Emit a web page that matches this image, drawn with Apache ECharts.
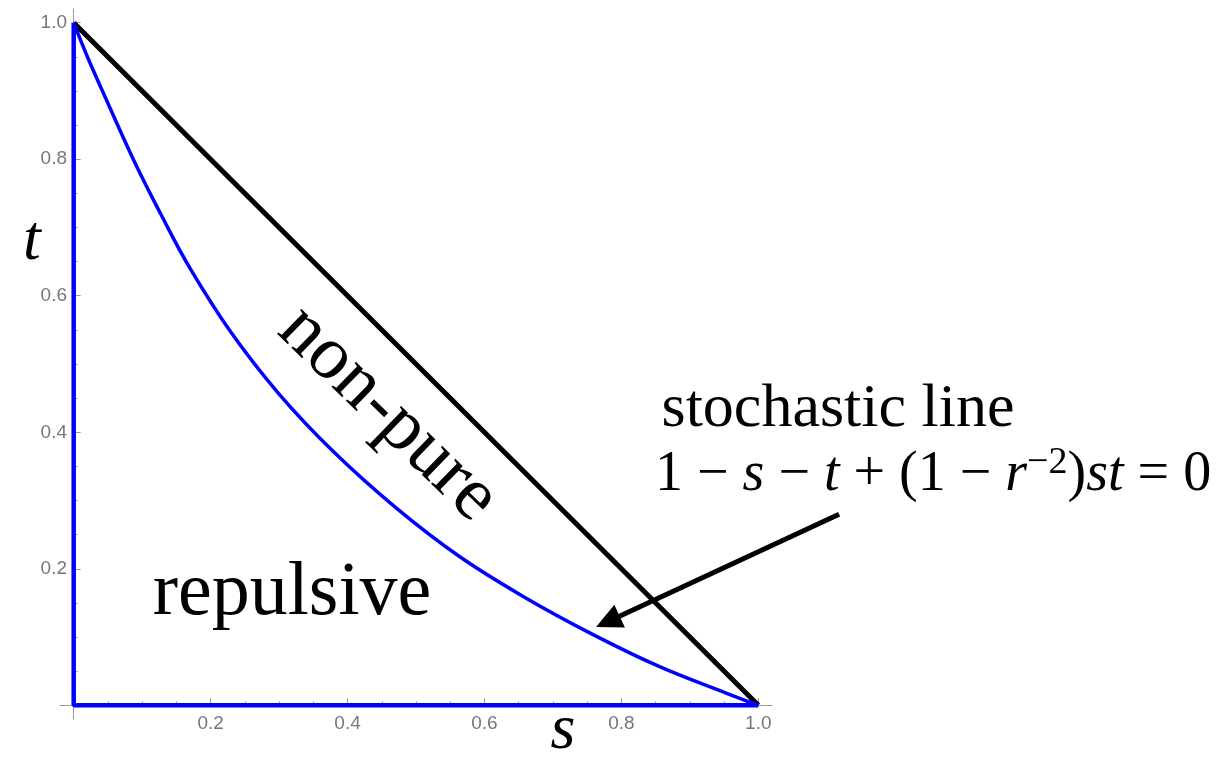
<!DOCTYPE html>
<html>
<head>
<meta charset="utf-8">
<script src="https://cdn.jsdelivr.net/npm/echarts@6/dist/echarts.min.js"></script>
<style>
  html, body { margin: 0; padding: 0; background: #fff; }
  #chart { width: 1231px; height: 758px; }
</style>
</head>
<body>
<div id="chart"></div>
<script>
// Region boundaries in the (s, t) unit square
const boundaryS = [0, 0, 1];
const boundaryT = [1, 0, 0];
const purityS = [0, 1];
const purityT = [1, 0];

// Stochastic line 1 - s - t + (1 - r^-2) s t = 0
const stochasticS = [0, 0.02, 0.042, 0.087, 0.127, 0.17, 0.23, 0.30, 0.38, 0.47, 0.5635, 0.661, 0.758, 0.855, 0.953, 1.0];
const stochasticT = [1, 0.95, 0.90, 0.80, 0.72, 0.64, 0.546, 0.456, 0.371, 0.29, 0.218, 0.157, 0.104, 0.057, 0.018, 0];

// Axis ticks
const majorTicks = [0.2, 0.4, 0.6, 0.8, 1.0];
const minorTicks = [0.05, 0.1, 0.15, 0.25, 0.3, 0.35, 0.45, 0.5, 0.55, 0.65, 0.7, 0.75, 0.85, 0.9, 0.95];

// Arrow pointing at the stochastic line (tail, tip) in (s, t)
const arrowTail = [1.118, 0.28];
const arrowTip = [0.763, 0.1146];

const pairs = (xs, ys) => xs.map((x, i) => [x, ys[i]]);

const AXIS_MIN = -0.02, AXIS_MAX = 1.02;
const axisGray = '#9a9a9a';
const labelGray = '#777777';
const serif = '"Liberation Serif", "Times New Roman", serif';

function makeAxis(major, position) {
  return {
    type: 'value',
    position: position,
    min: AXIS_MIN,
    max: AXIS_MAX,
    splitLine: { show: false },
    axisLine: { show: major, onZero: true, lineStyle: { color: axisGray, width: 1 } },
    axisTick: {
      show: true,
      inside: true,
      length: major ? 7 : 4,
      customValues: major ? majorTicks : minorTicks,
      lineStyle: { color: axisGray, width: 1 }
    },
    axisLabel: major ? {
      show: true,
      customValues: majorTicks,
      formatter: v => v.toFixed(1),
      color: labelGray,
      fontSize: 19,
      fontFamily: '"Liberation Sans", Arial, sans-serif',
      // labels sit at the grid edge, which lies a little beyond the zero line
      margin: position === 'bottom' ? -5 : -7
    } : { show: false }
  };
}

const chart = echarts.init(document.getElementById('chart'), null, { renderer: 'canvas' });

chart.setOption({
  animation: false,
  backgroundColor: '#ffffff',
  grid: { left: 60, top: 9, width: 712, height: 710, outerBoundsMode: 'none' },
  xAxis: [makeAxis(true, 'bottom'), makeAxis(false, 'bottom')],
  yAxis: [makeAxis(true, 'left'), makeAxis(false, 'left')],
  series: [
    {
      type: 'line',
      data: pairs(purityS, purityT),
      symbol: 'none',
      lineStyle: { color: '#000000', width: 5 },
      z: 3
    },
    {
      type: 'line',
      data: pairs(boundaryS, boundaryT),
      symbol: 'none',
      lineStyle: { color: '#0000ff', width: 4.5 },
      z: 4
    },
    {
      type: 'line',
      data: pairs(stochasticS, stochasticT),
      symbol: 'none',
      smooth: 0.4,
      lineStyle: { color: '#0000ff', width: 3.5 },
      z: 4
    }
  ]
});

// Arrow from the equation to the curve
const tail = chart.convertToPixel({ gridIndex: 0 }, arrowTail);
const tip = chart.convertToPixel({ gridIndex: 0 }, arrowTip);
const dx = tail[0] - tip[0], dy = tail[1] - tip[1];
const len = Math.hypot(dx, dy);
const ux = dx / len, uy = dy / len;
const headLen = 26, headHalf = 12.5;
const base = [tip[0] + ux * headLen, tip[1] + uy * headLen];

chart.setOption({
  graphic: [
    {
      type: 'line',
      shape: { x1: tail[0], y1: tail[1], x2: base[0] - ux * 2, y2: base[1] - uy * 2 },
      style: { stroke: '#000', lineWidth: 5 },
      z: 10
    },
    {
      type: 'polygon',
      shape: { points: [
        tip,
        [base[0] - uy * headHalf, base[1] + ux * headHalf],
        [base[0] + uy * headHalf, base[1] - ux * headHalf]
      ] },
      style: { fill: '#000' },
      z: 10
    },
    {
      type: 'text', x: 32, y: 242,
      style: { text: 't', font: 'italic 64px ' + serif, fill: '#000', align: 'center', verticalAlign: 'middle' }
    },
    {
      type: 'text', x: 563, y: 731,
      style: { text: 's', font: 'italic 64px ' + serif, fill: '#000', align: 'center', verticalAlign: 'middle' }
    },
    {
      type: 'text', x: 388, y: 414, rotation: -0.772,
      style: { text: 'non-pure', font: '76px ' + serif, fill: '#000', align: 'center', verticalAlign: 'middle' }
    },
    {
      type: 'text', x: 292, y: 594,
      style: { text: 'repulsive', font: '76px ' + serif, fill: '#000', align: 'center', verticalAlign: 'middle' }
    },
    {
      type: 'text', x: 838, y: 410,
      style: { text: 'stochastic line', font: '62px ' + serif, fill: '#000', align: 'center', verticalAlign: 'middle' }
    },
    {
      type: 'text', x: 655, y: 475,
      style: {
        text: '{n|1 − }{i|s}{n| − }{i|t}{n| + (1 − }{i|r}{sup|−2}{n|)}{i|st}{n| = 0}',
        align: 'left',
        verticalAlign: 'middle',
        fill: '#000',
        rich: {
          n: { fontFamily: serif, fontSize: 56, lineHeight: 62, fill: '#000' },
          i: { fontFamily: serif, fontStyle: 'italic', fontSize: 56, lineHeight: 62, fill: '#000' },
          sup: { fontFamily: serif, fontSize: 38, lineHeight: 30, verticalAlign: 'top', fill: '#000' }
        }
      }
    }
  ]
});
</script>
</body>
</html>
